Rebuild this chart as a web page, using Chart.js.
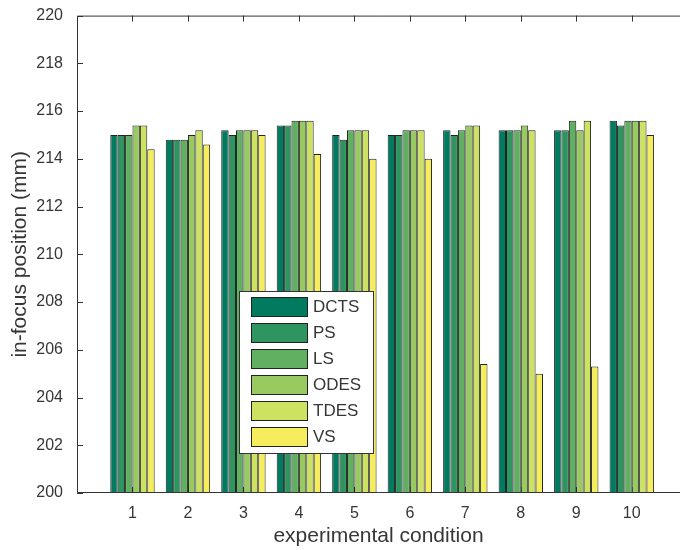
<!DOCTYPE html>
<html>
<head>
<meta charset="utf-8">
<script src="https://cdn.jsdelivr.net/npm/chart.js@4.4.1/dist/chart.umd.min.js"></script>
<style>
  html, body { margin: 0; padding: 0; background: #fff; overflow: hidden; }
  #wrap { width: 680px; height: 550px; }
</style>
</head>
<body>
<div id="wrap"><canvas id="barChartFocus" width="680" height="550"></canvas></div>
<script>
//================================ Data ================================
var conditions  = [1, 2, 3, 4, 5, 6, 7, 8, 9, 10];
var seriesNames = ['DCTS', 'PS', 'LS', 'ODES', 'TDES', 'VS'];

var valuesDCTS = [215.0, 214.8, 215.2, 215.4, 215.0, 215.0, 215.2, 215.2, 215.2, 215.6];
var valuesPS   = [215.0, 214.8, 215.0, 215.4, 214.8, 215.0, 215.0, 215.2, 215.2, 215.4];
var valuesLS   = [215.0, 214.8, 215.2, 215.6, 215.2, 215.2, 215.2, 215.2, 215.6, 215.6];
var valuesODES = [215.4, 215.0, 215.2, 215.6, 215.2, 215.2, 215.4, 215.4, 215.2, 215.6];
var valuesTDES = [215.4, 215.2, 215.2, 215.6, 215.2, 215.2, 215.4, 215.2, 215.6, 215.6];
var valuesVS   = [214.4, 214.6, 215.0, 214.2, 214.0, 214.0, 205.4, 205.0, 205.3, 215.0];

var yTickValues = [200, 202, 204, 206, 208, 210, 212, 214, 216, 218, 220];

var seriesColors = ['#007b60', '#2e9561', '#61b062', '#99ca62', '#cde262', '#f6ed5c'];
var seriesValues = [valuesDCTS, valuesPS, valuesLS, valuesODES, valuesTDES, valuesVS];

var fontFamily = '"Liberation Sans", Arial, Helvetica, sans-serif';
var textColor = '#363636';

//================================ Frame + inward ticks (matlab style) ================
// the right side of the original axes box is cut off by the figure edge
var frameAndTicks = {
    id: 'frameAndTicks',
    beforeDatasetsDraw: function(chart) {
        var ctx = chart.ctx, a = chart.chartArea;
        var xs = chart.scales.x, ys = chart.scales.y;
        ctx.save();
        ctx.strokeStyle = '#333';
        ctx.lineWidth = 1;
        ctx.beginPath();
        yTickValues.forEach(function(v) {
            var p = Math.round(ys.getPixelForValue(v)) + 0.5;
            ctx.moveTo(a.left, p);  ctx.lineTo(a.left + 6, p);
        });
        conditions.forEach(function(c) {
            var p = Math.round(xs.getPixelForValue(c)) + 0.5;
            ctx.moveTo(p, a.top);    ctx.lineTo(p, a.top + 6);
            ctx.moveTo(p, a.bottom); ctx.lineTo(p, a.bottom - 6);
        });
        ctx.stroke();
        ctx.restore();
    },
    afterDatasetsDraw: function(chart) {
        var ctx = chart.ctx, a = chart.chartArea;
        ctx.save();
        ctx.strokeStyle = '#333';
        ctx.lineWidth = 1;
        ctx.beginPath();
        ctx.moveTo(a.right, a.top + 0.5);
        ctx.lineTo(a.left + 0.5, a.top + 0.5);
        ctx.lineTo(a.left + 0.5, a.bottom - 0.5);
        ctx.lineTo(a.right, a.bottom - 0.5);
        ctx.stroke();
        ctx.restore();
    }
};

//================================ Boxed legend inside the axes ================
var boxLegend = {
    id: 'boxLegend',
    afterDraw: function(chart) {
        var ctx = chart.ctx;
        var bx = 239.5, by = 291.5, bw = 134, bh = 162;
        ctx.save();
        ctx.fillStyle = '#fff';
        ctx.fillRect(bx, by, bw, bh);
        ctx.strokeStyle = '#333';
        ctx.lineWidth = 1;
        ctx.strokeRect(bx, by, bw, bh);
        ctx.font = '17px ' + fontFamily;
        ctx.textBaseline = 'middle';
        chart.data.datasets.forEach(function(ds, i) {
            var sy = 297.5 + i * 26;
            ctx.fillStyle = ds.backgroundColor;
            ctx.fillRect(251.5, sy, 56, 19);
            ctx.strokeStyle = '#222';
            ctx.strokeRect(251.5, sy, 56, 19);
            ctx.fillStyle = textColor;
            ctx.fillText(ds.label, 313, sy + 10);
        });
        ctx.restore();
    }
};

//================================ Bar chart ================================
var datasets = seriesNames.map(function(name, i) {
    return {
        label: name,
        data: conditions.map(function(c, j) { return { x: c, y: seriesValues[i][j] }; }),
        backgroundColor: seriesColors[i],
        borderColor: '#222',
        borderWidth: 1,
        borderSkipped: false,
        categoryPercentage: 0.8,
        barPercentage: 1.0
    };
});

var chrt = document.getElementById('barChartFocus').getContext('2d');
var config = {
    type: 'bar',
    data: { datasets: datasets },
    options: {
        responsive: false,
        animation: false,
        devicePixelRatio: 1,
        layout: { padding: { top: 14, right: 0, left: 0, bottom: 0 } },
        plugins: {
            legend: { display: false },
            tooltip: { enabled: false }
        },
        scales: {
            x: {
                type: 'linear',
                offset: false,
                min: 0,
                max: 10.87,
                afterFit: function(s) { s.height = 57; },
                afterBuildTicks: function(s) {
                    s.ticks = conditions.map(function(c) { return { value: c }; });
                },
                ticks: {
                    autoSkip: false,
                    maxRotation: 0,
                    padding: 3,
                    color: textColor,
                    font: { family: fontFamily, size: 16 }
                },
                grid: { display: false },
                border: { display: false },
                title: {
                    display: true,
                    text: 'experimental condition',
                    color: textColor,
                    font: { family: fontFamily, size: 21 },
                    padding: { top: 0, bottom: 1 }
                }
            },
            y: {
                min: 200,
                max: 220,
                afterFit: function(s) { s.width = 77; },
                afterBuildTicks: function(s) {
                    s.ticks = yTickValues.map(function(v) { return { value: v }; });
                },
                ticks: {
                    padding: 6,
                    color: textColor,
                    font: { family: fontFamily, size: 16 }
                },
                grid: { display: false },
                border: { display: false },
                title: {
                    display: true,
                    text: 'in-focus position (mm)',
                    color: textColor,
                    font: { family: fontFamily, size: 21 },
                    padding: { top: 8, bottom: 0 }
                }
            }
        }
    },
    plugins: [frameAndTicks, boxLegend]
};

var barChartFocus = new Chart(chrt, config);
</script>
</body>
</html>
